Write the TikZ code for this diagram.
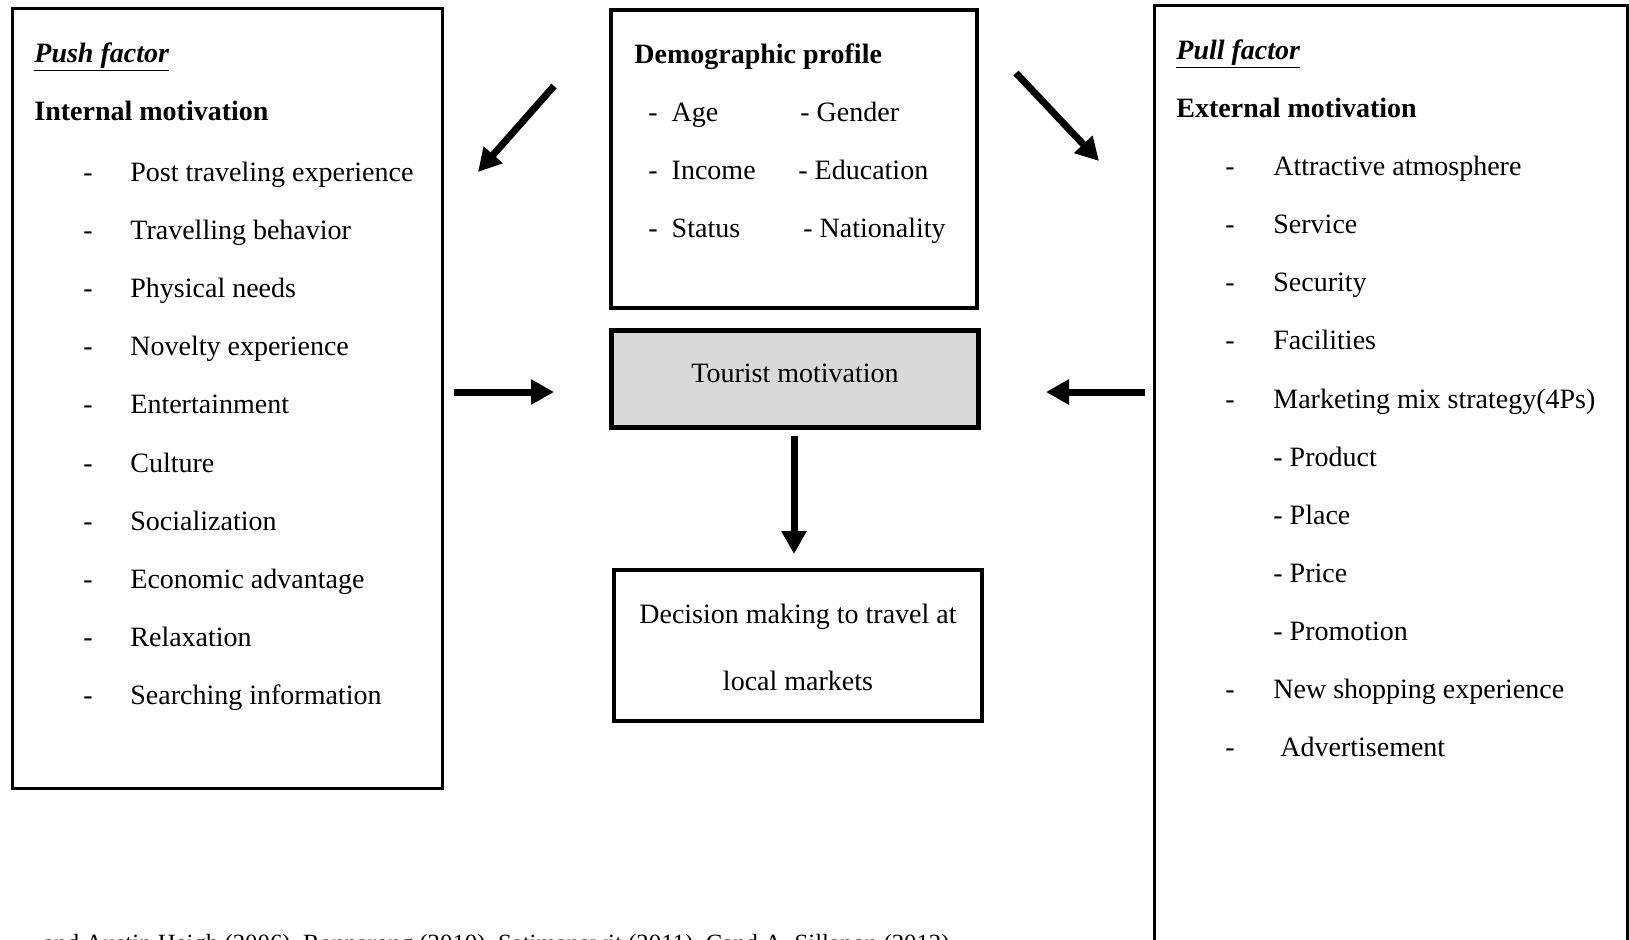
\documentclass[tikz,border=0pt]{standalone}
\usepackage{fontspec}
\setmainfont{Liberation Serif}
\usetikzlibrary{arrows.meta,positioning}

\begin{document}
\begin{tikzpicture}[x=0.5pt,y=-0.5pt,
    box/.style={draw, rectangle, inner sep=0pt},
    txt/.style={anchor=base west, inner sep=0pt, font=\fontsize{14}{16}\selectfont},
    ctxt/.style={anchor=base, inner sep=0pt, font=\fontsize{14}{16}\selectfont},
    bigarrow/.style={line width=3.5pt, -{Triangle[length=11.5pt,width=12pt]}}]
\useasboundingbox (0,0) rectangle (1629,939);

\node[box, line width=1.5pt, minimum width=215pt, minimum height=390pt] (push) at (227,398) {};
\node[box, line width=2pt, minimum width=183pt, minimum height=149pt] (demo) at (794,159) {};
\node[box, line width=2.5pt, fill=gray!30, minimum width=183.5pt, minimum height=48.5pt] (tour) at (794.5,378.5) {};
\node[box, line width=1.6pt, minimum width=184pt, minimum height=75.5pt] (dec) at (798,645.5) {};
\node[box, line width=1.5pt, minimum width=236.5pt, minimum height=487.5pt] (pull) at (1390.5,492.5) {};

% push factor
\node[txt] (pushtitle) at (34,62) {\textbf{\textit{\underline{Push factor}}}};
\node[txt] (internal) at (34,120.5) {\textbf{Internal motivation}};
\foreach \t [count=\i from 0] in {Post traveling experience, Travelling behavior, Physical needs,
    Novelty experience, Entertainment, Culture, Socialization, Economic advantage,
    Relaxation, Searching information}{
  \node[ctxt] (pd\i) at (88,{181+58.2*\i}) {-};
  \node[txt] (pi\i) at (130,{181+58.2*\i}) {\t};
}

% demographic profile
\node[txt] (demotitle) at (634,63.4) {\textbf{Demographic profile}};
\node[txt] (age) at (648,121.6) {-~~Age};
\node[txt] (gender) at (800,121.6) {- Gender};
\node[txt] (income) at (648,179.7) {-~~Income};
\node[txt] (edu) at (798,179.7) {- Education};
\node[txt] (status) at (648,237.9) {-~~Status};
\node[txt] (nation) at (803,237.9) {- Nationality};

\node[ctxt] (tourtext) at (795,382) {Tourist motivation};
\node[ctxt] (dec1) at (798,623.5) {Decision making to travel at};
\node[ctxt] (dec2) at (798,690) {local markets};

% pull factor
\node[txt] (pulltitle) at (1176,59) {\textbf{\textit{\underline{Pull factor}}}};
\node[txt] (external) at (1176,117.5) {\textbf{External motivation}};
\foreach \i/\t in {0/Attractive atmosphere, 1/Service, 2/Security, 3/Facilities,
    4/Marketing mix strategy(4Ps), 9/New shopping experience}{
  \node[ctxt] (qd\i) at (1230,{175.6+58.1*\i}) {-};
  \node[txt] (qi\i) at (1273,{175.6+58.1*\i}) {\t};
}
\foreach \i/\t in {5/Product, 6/Place, 7/Price, 8/Promotion}{
  \node[txt] (qi\i) at (1273,{175.6+58.1*\i}) {- \t};
}
\node[ctxt] (qd10) at (1230,756.6) {-};
\node[txt] (qi10) at (1280,756.6) {Advertisement};

\node[anchor=base west, inner sep=0pt, font=\fontsize{12.4}{14}\selectfont] (src) at (43,951)
  {and Austin Heigh (2006), Ronnarong (2010), Satimanawit (2011), Cand A. Sillanon (2012)};

% arrows
\coordinate (dl1) at (554,86);
\coordinate (dl2) at (478,172);
\coordinate (dr1) at (1016,73);
\coordinate (dr2) at (1099,161);
\coordinate (ra1) at (454,392);
\coordinate (ra2) at (554,392);
\coordinate (la1) at (1145,392);
\coordinate (la2) at (1046,392);
\coordinate (dn1) at (794,436);
\coordinate (dn2) at (794,554);
\draw[bigarrow] (dl1) -- (dl2);
\draw[bigarrow] (dr1) -- (dr2);
\draw[bigarrow] (ra1) -- (ra2);
\draw[bigarrow] (la1) -- (la2);
\draw[bigarrow] (dn1) -- (dn2);
\end{tikzpicture}
\end{document}
